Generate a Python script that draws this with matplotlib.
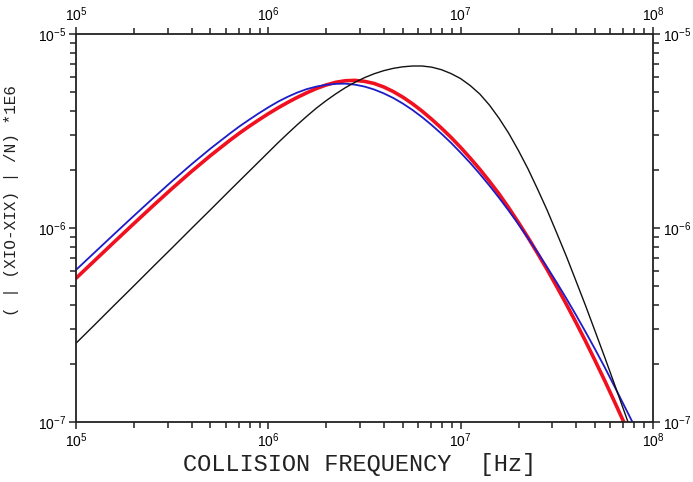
import numpy as np
import matplotlib
matplotlib.use("Agg")
import matplotlib.pyplot as plt
from matplotlib.ticker import LogLocator, LogFormatterMathtext, NullFormatter

# -------------------------------
# Data (log10 values)
# -------------------------------
log_f_grid = [5.0, 5.1, 5.2, 5.3, 5.4, 5.5, 5.6, 5.7,
              5.8, 5.85, 5.9, 5.95, 6.0, 6.05, 6.1, 6.15, 6.2, 6.25,
              6.3, 6.35, 6.4, 6.45, 6.5, 6.55, 6.6, 6.65, 6.7, 6.75,
              6.8, 6.85, 6.9, 6.95, 7.0, 7.05, 7.1, 7.15, 7.2, 7.25,
              7.3, 7.35, 7.4, 7.45, 7.5, 7.55, 7.6, 7.65, 7.7, 7.75, 7.8]

log_f_red = log_f_grid + [7.848]
log_y_red = [-6.259, -6.165, -6.071, -5.978, -5.886, -5.796, -5.709, -5.626,
             -5.548, -5.511, -5.476, -5.443, -5.411, -5.381, -5.353, -5.327, -5.303, -5.281,
             -5.263, -5.249, -5.241, -5.239, -5.244, -5.255, -5.273, -5.297, -5.326, -5.360,
             -5.398, -5.440, -5.485, -5.533, -5.585, -5.640, -5.698, -5.760, -5.825, -5.896,
             -5.971, -6.049, -6.131, -6.215, -6.303, -6.394, -6.488, -6.585, -6.686, -6.789, -6.896,
             -7.0]

log_f_blue = log_f_grid + [7.893]
log_y_blue = [-6.216, -6.123, -6.030, -5.938, -5.847, -5.758, -5.672, -5.590,
              -5.513, -5.476, -5.442, -5.409, -5.378, -5.349, -5.324, -5.302, -5.284, -5.271,
              -5.262, -5.257, -5.256, -5.261, -5.271, -5.286, -5.306, -5.330, -5.359, -5.392,
              -5.429, -5.470, -5.514, -5.561, -5.612, -5.665, -5.722, -5.782, -5.845, -5.911,
              -5.980, -6.052, -6.126, -6.203, -6.282, -6.364, -6.449, -6.537, -6.627, -6.720, -6.817,
              -7.0]

log_f_black = log_f_grid + [7.870]
log_y_black = [-6.594, -6.496, -6.397, -6.299, -6.200, -6.102, -6.003, -5.905,
               -5.806, -5.757, -5.708, -5.659, -5.610, -5.561, -5.514, -5.468, -5.424, -5.382,
               -5.344, -5.309, -5.277, -5.249, -5.225, -5.205, -5.189, -5.177, -5.169, -5.165,
               -5.165, -5.171, -5.184, -5.204, -5.230, -5.266, -5.310, -5.367, -5.435, -5.512,
               -5.600, -5.695, -5.800, -5.909, -6.027, -6.147, -6.274, -6.402, -6.535, -6.669, -6.806,
               -7.0]

x_label = "COLLISION FREQUENCY  [Hz]"
y_label = "( | (XIO-XIX) | /N) *1E6"

# -------------------------------
# Figure
# -------------------------------
plt.rcParams['font.family'] = ['Liberation Sans', 'DejaVu Sans']

fig = plt.figure(figsize=(6.93, 4.82), dpi=100)
ax = fig.add_axes([76 / 693, 1 - 422 / 482, 577 / 693, 388 / 482])

ax.plot(10.0 ** np.array(log_f_red), 10.0 ** np.array(log_y_red), color='#f01020', lw=2.6)
ax.plot(10.0 ** np.array(log_f_blue), 10.0 ** np.array(log_y_blue), color='#1c1cc8', lw=1.3)
ax.plot(10.0 ** np.array(log_f_black), 10.0 ** np.array(log_y_black), color='#111111', lw=1.0)

ax.set_xscale('log')
ax.set_yscale('log')
ax.set_xlim(1e5, 1e8)
ax.set_ylim(1e-7, 1e-5)

for axis in (ax.xaxis, ax.yaxis):
    axis.set_major_locator(LogLocator(base=10, numticks=10))
    axis.set_minor_locator(LogLocator(base=10, subs=np.arange(2, 10), numticks=30))
    axis.set_major_formatter(LogFormatterMathtext())
    axis.set_minor_formatter(NullFormatter())

ax.tick_params(which='both', direction='out', top=True, right=True,
               labeltop=True, labelright=True, color='#222222', width=1.1)
ax.tick_params(which='major', length=5, labelsize=10, pad=2)
ax.tick_params(which='minor', length=4)

for s in ax.spines.values():
    s.set_linewidth(1.3)
    s.set_color('#222222')

fig.text(360 / 693, 1 - 465 / 482, x_label, family='Liberation Mono',
         fontsize=17, ha='center', va='center', color='#222222')
fig.text(12 / 693, 1 - 200 / 482, y_label, family='Liberation Mono',
         fontsize=11.5, rotation=90, ha='center', va='center', color='#222222')

fig.savefig('out.png', dpi=100)
